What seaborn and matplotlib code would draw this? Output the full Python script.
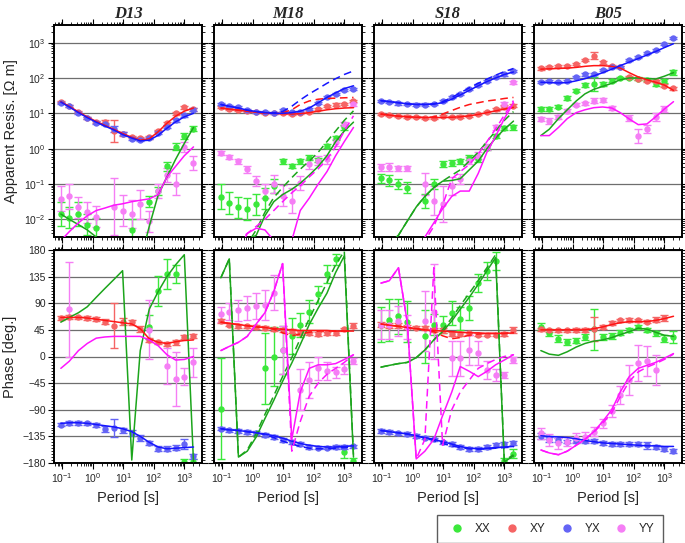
import numpy as np
import matplotlib
matplotlib.use("Agg")
import matplotlib.pyplot as plt
import seaborn as sns
from matplotlib.lines import Line2D
from matplotlib.ticker import LogLocator, MultipleLocator, NullFormatter

nan = np.nan

# periods [s] shared by all stations
periods = [0.09, 0.17, 0.34, 0.66, 1.3, 2.5, 4.9, 9.5, 19, 36, 71, 140, 270, 520, 1000, 2000]

stations = ['D13', 'M18', 'S18', 'B05']
components = ['xx', 'xy', 'yx', 'yy']
labels = ['XX', 'XY', 'YX', 'YY']

# ---- D13 : log10 apparent resistivity, phase [deg] ----
d13_rho_xx = [-1.85, -1.95, -1.85, -2.15, -2.25, nan, nan, nan, -2.3, nan, -1.5, -1.2, -0.5, 0.05, 0.35, 0.57]
d13_rho_xx_err = [0.35, 0.3, 0.35, 0.3, 0.3, 0, 0, 0, 0.3, 0, 0.15, 0.12, 0.12, 0.1, 0.08, 0.06]
d13_rho_xx_fit = [-1.85, -2.0, -2.15, -2.3, -2.5, -2.75, -3.0, -3.3, -3.5, -3.2, -2.2, -1.3, -0.8, -0.3, 0.15, 0.6]
d13_rho_xy = [1.32, 1.2, 1.03, 0.88, 0.76, 0.75, 0.5, 0.42, 0.33, 0.3, 0.32, 0.5, 0.72, 1.0, 1.17, 1.12]
d13_rho_xy_err = [0.03, 0.03, 0.03, 0.03, 0.03, 0.05, 0.3, 0.05, 0.04, 0.04, 0.04, 0.04, 0.04, 0.05, 0.05, 0.04]
d13_rho_xy_fit = [1.33, 1.2, 1.04, 0.9, 0.77, 0.66, 0.55, 0.43, 0.32, 0.24, 0.28, 0.48, 0.72, 0.92, 1.06, 1.15]
d13_rho_yx = [1.3, 1.2, 1.0, 0.87, 0.74, 0.7, 0.56, 0.42, 0.28, 0.25, 0.3, 0.45, 0.62, 0.8, 0.95, 1.1]
d13_rho_yx_err = [0.03, 0.03, 0.03, 0.03, 0.03, 0.04, 0.08, 0.04, 0.04, 0.04, 0.04, 0.04, 0.04, 0.04, 0.04, 0.04]
d13_rho_yx_fit = [1.32, 1.18, 1.02, 0.88, 0.75, 0.64, 0.53, 0.4, 0.3, 0.22, 0.24, 0.38, 0.58, 0.76, 0.9, 1.0]
d13_rho_yy = [-1.42, -1.35, -1.66, -1.8, -1.92, nan, -1.64, -1.75, -1.85, -1.58, -2.06, -1.2, -0.75, -1.0, 0.05, -0.4]
d13_rho_yy_err = [0.35, 0.35, 0.3, 0.3, 0.3, 0, 0.8, 0.45, 0.4, 0.4, 0.3, 0.2, 0.2, 0.3, 0.15, 0.2]
d13_rho_yy_fit = [-2.6, -2.35, -2.1, -1.9, -1.75, -1.68, -1.6, -1.56, -1.5, -1.46, -1.42, -1.3, -0.8, -0.5, -0.2, 0.05]

d13_phs_xx = [nan, nan, nan, nan, nan, nan, nan, nan, nan, nan, 50, 111, 139, 139, -178, -178]
d13_phs_xx_err = [0, 0, 0, 0, 0, 0, 0, 0, 0, 0, 20, 25, 25, 15, 5, 5]
d13_phs_xx_fit = [58, 66, 74, 84, 100, 115, 130, 145, -175, 10, 80, 110, 135, 155, 172, -178]
d13_phs_xy = [65, 67, 66, 65, 63, 59, 52, 59, 58, 46, 28, 24, 21, 24, 33, 35]
d13_phs_xy_err = [3, 3, 3, 3, 3, 4, 38, 6, 4, 5, 4, 3, 3, 4, 4, 3]
d13_phs_xy_fit = [66, 66, 66, 65, 63, 61, 59, 57, 55, 47, 30, 24, 22, 25, 27, 28]
d13_phs_yx = [-115, -112, -112, -113, -116, -122, -121, -125, -129, -137, -146, -156, -156, -154, -148, -169]
d13_phs_yx_err = [3, 3, 3, 3, 3, 5, 15, 5, 5, 5, 4, 4, 4, 4, 8, 4]
d13_phs_yx_fit = [-113, -112, -112, -113, -115, -117, -119, -122, -127, -135, -145, -153, -156, -155, -154, -153]
d13_phs_yy = [nan, 80, nan, nan, nan, nan, nan, nan, nan, nan, 45, nan, -16, -38, -34, -10]
d13_phs_yy_err = [0, 80, 0, 0, 0, 0, 0, 0, 0, 0, 50, 0, 30, 45, 15, 25]
d13_phs_yy_fit = [-20, -8, 10, 22, 31, 33, 34, 34, 34, 34, 28, 18, 3, -6, -5, 0]

# ---- M18 ----
m18_rho_xx = [-1.36, -1.54, -1.66, -1.71, -1.58, -1.4, -1.05, -0.36, -0.48, -0.36, -0.25, -0.32, 0.08, 0.3, 0.6, nan]
m18_rho_xx_err = [0.35, 0.3, 0.3, 0.3, 0.3, 0.3, 0.2, 0.06, 0.06, 0.06, 0.06, 0.06, 0.06, 0.06, 0.06, 0]
m18_rho_xx_fit = [-3.5, -3.2, -2.9, -2.6, -2.45, -1.9, -1.5, -1.3, -1.15, -0.98, -0.75, -0.5, -0.2, 0.2, 0.5, 0.75]
m18_rho_xx_alt = [-3.6, -3.3, -3.0, -2.7, -2.3, -1.8, -1.38, -1.1, -0.82, -0.58, -0.35, -0.1, 0.2, 0.5, 0.8, 1.07]
m18_rho_xy = [1.17, 1.12, 1.1, 1.07, 1.03, 1.0, 1.0, 1.0, 0.98, 1.0, 1.05, 1.13, 1.2, 1.25, 1.26, 1.35]
m18_rho_xy_err = [0.03, 0.03, 0.03, 0.03, 0.03, 0.03, 0.03, 0.03, 0.03, 0.03, 0.03, 0.03, 0.03, 0.03, 0.03, 0.03]
m18_rho_xy_fit = [1.15, 1.12, 1.09, 1.06, 1.03, 1.01, 1.0, 0.99, 0.98, 0.99, 1.02, 1.06, 1.1, 1.13, 1.15, 1.16]
m18_rho_xy_alt = [1.15, 1.12, 1.09, 1.06, 1.03, 1.01, 1.0, 1.02, 1.1, 1.25, 1.35, 1.4, 1.42, 1.43, 1.44, 1.45]
m18_rho_yx = [1.26, 1.22, 1.18, 1.1, 1.05, 1.03, 1.01, 1.1, 1.03, 1.04, 1.12, 1.3, 1.45, 1.55, 1.65, 1.7]
m18_rho_yx_err = [0.03, 0.03, 0.03, 0.03, 0.03, 0.03, 0.03, 0.03, 0.03, 0.03, 0.03, 0.03, 0.03, 0.03, 0.03, 0.03]
m18_rho_yx_fit = [1.25, 1.2, 1.15, 1.09, 1.05, 1.02, 1.0, 1.0, 1.02, 1.06, 1.15, 1.3, 1.45, 1.58, 1.7, 1.78]
m18_rho_yx_alt = [1.25, 1.2, 1.15, 1.09, 1.05, 1.02, 1.01, 1.05, 1.2, 1.38, 1.55, 1.7, 1.85, 1.98, 2.1, 2.2]
m18_rho_yy = [-0.13, -0.23, -0.36, -0.58, -0.91, -1.19, -1.0, -1.33, -1.47, -0.96, -0.43, -0.34, -0.3, 0.18, 0.7, 1.26]
m18_rho_yy_err = [0.06, 0.06, 0.08, 0.1, 0.15, 0.2, 0.25, 0.3, 0.35, 0.2, 0.15, 0.12, 0.12, 0.1, 0.06, 0.04]
m18_rho_yy_fit = [-3.5, -3.2, -2.9, -2.4, -2.25, -2.3, -2.6, -3.0, -2.6, -1.75, -1.4, -1.0, -0.65, -0.2, 0.2, 0.6]
m18_rho_yy_alt = [-3.2, -2.9, -2.6, -2.4, -2.2, -2.0, -1.75, -1.5, -1.25, -1.05, -0.8, -0.57, -0.3, 0.05, 0.5, 0.93]

m18_phs_xx = [-88, nan, nan, nan, nan, -20, 0, 11, 35, 53, 76, 105, 139, 164, -161, -176]
m18_phs_xx_err = [85, 0, 0, 0, 0, 60, 50, 40, 30, 20, 20, 15, 15, 10, 10, 5]
m18_phs_xx_fit = [133, 165, -170, -160, -136, -105, -74, -42, -11, 20, 54, 82, 107, 142, 170, -170]
m18_phs_xx_alt = [133, 165, -170, -158, -130, -98, -66, -34, -2, 30, 64, 95, 125, 155, 178, -168]
m18_phs_xy = [60, 54, 52, 51, 50, 48, 46, 45, 43, 40, 39, 38, 39, 40, 46, 52]
m18_phs_xy_err = [4, 3, 3, 3, 3, 3, 3, 3, 3, 3, 3, 3, 3, 3, 3, 4]
m18_phs_xy_fit = [58, 56, 54, 52, 50, 49, 47, 46, 45, 44, 44, 44, 44, 43, 43, 43]
m18_phs_xy_alt = [58, 56, 54, 52, 50, 49, 46, 40, 35, 38, 41, 43, 43, 43, 43, 43]
m18_phs_yx = [-122, -125, -126, -128, -129, -133, -136, -141, -145, -148, -153, -154, -154, -153, -153, -152]
m18_phs_yx_err = [3, 3, 3, 3, 3, 3, 3, 3, 3, 3, 3, 3, 3, 3, 3, 3]
m18_phs_yx_fit = [-122, -124, -125, -127, -129, -131, -134, -138, -143, -147, -150, -152, -153, -153, -152, -151]
m18_phs_yx_alt = [-122, -124, -125, -127, -129, -132, -137, -143, -148, -152, -155, -156, -156, -155, -154, -153]
m18_phs_yy = [71, 76, 78, 82, 85, 87, 108, 11, nan, -56, -40, -20, -25, -27, -21, -8]
m18_phs_yy_err = [12, 15, 18, 20, 22, 25, 30, 40, 0, 35, 30, 20, 15, 10, 8, 5]
m18_phs_yy_fit = [10, 17, 24, 34, 55, 74, 110, 157, -140, -60, -20, -14, -14, -12, -5, 3]
m18_phs_yy_alt = [10, 17, 24, 34, 55, 74, 110, 157, -160, -110, -67, -45, -30, -20, -10, 3]

# ---- S18 ----
s18_rho_xx = [-0.84, -0.9, -1.0, -1.1, nan, -1.47, -1.0, -0.43, -0.41, -0.36, -0.25, -0.3, 0.03, 0.35, 0.58, 0.6]
s18_rho_xx_err = [0.12, 0.15, 0.15, 0.15, 0, 0.2, 0.15, 0.08, 0.08, 0.08, 0.08, 0.08, 0.06, 0.06, 0.06, 0.06]
s18_rho_xx_fit = [-3.0, -2.7, -2.45, -2.05, -1.65, -1.35, -1.1, -0.92, -0.9, -0.85, -0.6, -0.35, 0.0, 0.3, 0.55, 0.78]
s18_rho_xx_alt = [-3.0, -2.7, -2.45, -2.05, -1.65, -1.35, -1.1, -0.92, -0.75, -0.6, -0.35, -0.1, 0.2, 0.5, 0.8, 1.05]
s18_rho_xy = [0.98, 0.95, 0.92, 0.91, 0.89, 0.88, 0.88, 0.93, 0.89, 0.91, 0.93, 0.98, 1.03, 1.12, 1.19, 1.22]
s18_rho_xy_err = [0.03, 0.03, 0.03, 0.03, 0.03, 0.03, 0.03, 0.03, 0.03, 0.03, 0.03, 0.03, 0.03, 0.04, 0.04, 0.04]
s18_rho_xy_fit = [0.98, 0.95, 0.92, 0.9, 0.89, 0.88, 0.88, 0.88, 0.89, 0.9, 0.93, 0.97, 1.02, 1.07, 1.12, 1.17]
s18_rho_xy_alt = [0.98, 0.95, 0.92, 0.9, 0.89, 0.88, 0.9, 0.98, 1.08, 1.17, 1.25, 1.3, 1.35, 1.38, 1.42, 1.45]
s18_rho_yx = [1.36, 1.33, 1.28, 1.26, 1.25, 1.25, 1.26, 1.36, 1.45, 1.55, 1.69, 1.8, 1.92, 2.02, 2.1, 2.19]
s18_rho_yx_err = [0.03, 0.03, 0.03, 0.03, 0.03, 0.03, 0.03, 0.03, 0.03, 0.03, 0.03, 0.03, 0.03, 0.03, 0.03, 0.03]
s18_rho_yx_fit = [1.36, 1.33, 1.3, 1.27, 1.25, 1.25, 1.26, 1.3, 1.4, 1.52, 1.65, 1.78, 1.9, 2.0, 2.1, 2.17]
s18_rho_yx_alt = [1.36, 1.33, 1.3, 1.27, 1.25, 1.25, 1.27, 1.33, 1.45, 1.58, 1.72, 1.85, 1.97, 2.08, 2.18, 2.27]
s18_rho_yy = [-0.53, -0.52, -0.56, -0.56, nan, -1.0, -1.47, -1.57, -1.05, -0.86, -0.34, -0.2, 0.04, 0.6, 1.26, 1.88]
s18_rho_yy_err = [0.1, 0.12, 0.08, 0.08, 0, 0.3, 0.4, 0.5, 0.25, 0.15, 0.1, 0.1, 0.08, 0.06, 0.05, 0.04]
s18_rho_yy_fit = [-4.0, -3.8, -3.5, -3.2, -2.9, -2.5, -2.1, -1.7, -1.35, -1.2, -1.2, -0.7, -0.1, 0.35, 0.85, 1.3]
s18_rho_yy_alt = [-4.0, -3.8, -3.5, -3.2, -2.9, -2.6, -2.2, -1.6, -0.85, -0.65, -0.45, -0.15, 0.2, 0.56, 0.95, 1.36]

s18_phs_xx = [54, 62, 68, 59, nan, 34, 54, 54, 74, 64, 82, 124, 144, 161, -176, -164]
s18_phs_xx_err = [30, 35, 30, 35, 0, 45, 18, 15, 20, 20, 20, 15, 15, 15, 5, 8]
s18_phs_xx_fit = [-18, -15, -12, -10, -2, 11, 28, 42, 60, 80, 100, 122, 145, 167, -178, -168]
s18_phs_xx_alt = [-18, -15, -12, -10, -2, 11, 28, 45, 65, 86, 107, 128, 150, 172, -176, -166]
s18_phs_xy = [54, 52, 53, 50, 49, 48, 45, 44, 38, 38, 39, 37, 37, 37, 38, 45]
s18_phs_xy_err = [4, 4, 4, 3, 3, 4, 4, 4, 3, 3, 3, 3, 3, 3, 4, 5]
s18_phs_xy_fit = [55, 53, 51, 49, 47, 45, 44, 43, 42, 41, 40, 40, 39, 39, 39, 40]
s18_phs_xy_alt = [55, 53, 51, 49, 47, 45, 42, 35, 30, 32, 36, 38, 39, 39, 39, 40]
s18_phs_yx = [-126, -128, -130, -131, -134, -137, -140, -145, -148, -153, -156, -156, -153, -150, -148, -146]
s18_phs_yx_err = [3, 3, 3, 3, 3, 3, 3, 3, 3, 3, 3, 3, 3, 3, 3, 3]
s18_phs_yx_fit = [-125, -127, -129, -131, -134, -137, -140, -144, -148, -152, -155, -156, -155, -154, -153, -152]
s18_phs_yx_alt = [-125, -127, -129, -131, -134, -138, -142, -147, -151, -154, -156, -157, -156, -155, -154, -153]
s18_phs_yy = [54, 54, 60, 50, nan, 60, 76, nan, -3, -3, 11, 6, -23, -31, -31, -6]
s18_phs_yy_err = [25, 25, 25, 20, 0, 50, 80, 0, 30, 30, 25, 20, 15, 10, 5, 5]
s18_phs_yy_fit = [124, 128, 150, 58, -173, -160, -140, -100, -60, -17, -25, -34, -25, -14, -6, 3]
s18_phs_yy_alt = [124, 128, 150, 58, -173, -140, 150, -150, -90, -60, -40, -20, -12, -5, 0, 3]

# ---- B05 ----
b05_rho_xx = [1.12, 1.12, 1.19, 1.43, 1.64, 1.81, 1.83, 1.83, 1.92, 2.0, 2.0, 1.98, 1.95, 1.83, 1.91, 2.16]
b05_rho_xx_err = [0.05, 0.05, 0.05, 0.05, 0.05, 0.06, 0.2, 0.05, 0.04, 0.04, 0.04, 0.04, 0.04, 0.05, 0.05, 0.08]
b05_rho_xx_fit = [0.37, 0.55, 0.85, 1.1, 1.35, 1.55, 1.68, 1.76, 1.85, 1.95, 2.0, 2.0, 1.98, 1.97, 2.05, 2.15]
b05_rho_xy = [2.27, 2.32, 2.33, 2.35, 2.4, 2.52, 2.63, 2.44, 2.35, 2.3, 2.02, 1.97, 1.92, 1.92, 1.78, 1.71]
b05_rho_xy_err = [0.03, 0.03, 0.03, 0.03, 0.03, 0.03, 0.1, 0.03, 0.03, 0.03, 0.03, 0.03, 0.03, 0.03, 0.04, 0.04]
b05_rho_xy_fit = [2.25, 2.26, 2.27, 2.28, 2.3, 2.33, 2.35, 2.35, 2.33, 2.28, 2.15, 2.03, 1.95, 1.88, 1.8, 1.65]
b05_rho_yx = [1.88, 1.91, 1.88, 1.91, 2.02, 2.1, 2.11, 2.23, 2.32, 2.3, 2.51, 2.6, 2.7, 2.8, 2.96, 3.13]
b05_rho_yx_err = [0.03, 0.03, 0.03, 0.03, 0.03, 0.03, 0.03, 0.03, 0.03, 0.03, 0.03, 0.03, 0.03, 0.03, 0.03, 0.03]
b05_rho_yx_fit = [1.88, 1.87, 1.86, 1.87, 1.92, 1.98, 2.06, 2.15, 2.25, 2.35, 2.45, 2.55, 2.65, 2.75, 2.86, 2.97]
b05_rho_yy = [0.84, 0.79, 0.9, 1.07, 1.25, 1.28, 1.36, 1.38, 1.15, nan, 0.87, 0.37, 0.56, 0.89, 1.12, nan]
b05_rho_yy_err = [0.07, 0.08, 0.06, 0.05, 0.05, 0.05, 0.06, 0.05, 0.05, 0, 0.08, 0.2, 0.12, 0.12, 0.08, 0]
b05_rho_yy_fit = [0.37, 0.37, 0.6, 0.85, 1.02, 1.1, 1.16, 1.18, 1.15, 1.02, 0.84, 0.68, 0.7, 0.9, 1.12, 1.33]

b05_phs_xx = [50, 40, 30, 24, 27, 33, 46, 33, 34, 40, 45, 50, 45, 39, 30, 33]
b05_phs_xx_err = [6, 6, 6, 5, 5, 5, 35, 5, 5, 4, 4, 4, 4, 4, 6, 10]
b05_phs_xx_fit = [10, 4, 2, 8, 16, 22, 26, 28, 32, 37, 42, 48, 46, 41, 36, 34]
b05_phs_xy = [46, 44, 44, 44, 45, 45, 46, 50, 57, 61, 62, 61, 59, 62, 65, nan]
b05_phs_xy_err = [3, 3, 3, 3, 3, 3, 20, 3, 3, 3, 3, 3, 3, 4, 5, 0]
b05_phs_xy_fit = [45, 45, 45, 45, 45, 45, 47, 50, 54, 57, 59, 59, 59, 61, 64, 68]
b05_phs_yx = [-135, -140, -141, -144, -143, -143, -143, -146, -148, -148, -148, -148, -150, -153, -156, -160]
b05_phs_yx_err = [5, 4, 3, 3, 3, 3, 3, 3, 3, 3, 3, 3, 6, 3, 3, 3]
b05_phs_yx_fit = [-134, -135, -136, -137, -139, -142, -144, -146, -147, -148, -149, -150, -151, -151, -152, -152]
b05_phs_yy = [-130, -141, -147, -144, -137, -136, -127, -113, -92, -65, -40, -11, -8, -23, nan, nan]
b05_phs_yy_err = [10, 10, 10, 8, 8, 8, 8, 8, 10, 15, 25, 30, 25, 25, 0, 0]
b05_phs_yy_fit = [-158, -163, -166, -160, -150, -140, -127, -110, -90, -60, -34, -20, -15, -10, -3, 5]
b05_phs_yy_alt = [-158, -163, -166, -160, -150, -140, -128, -113, -95, -68, -42, -26, -18, -12, -5, 4]

point_colors = {'xx': '#3be83b', 'xy': '#f56464', 'yx': '#6464f5', 'yy': '#f57ef5'}
line_colors = {'xx': '#1ca51c', 'xy': '#ff1515', 'yx': '#1515ff', 'yy': '#ff15ff'}

sns.set_theme(style="white")
plt.rcParams['font.family'] = ['Liberation Sans', 'DejaVu Sans']
plt.rcParams['mathtext.fontset'] = 'custom'
plt.rcParams['mathtext.rm'] = 'Liberation Sans'

series = globals()

W, H = 685, 543
fig = plt.figure(figsize=(W / 100, H / 100), dpi=100)
lefts = [54, 214, 374, 534]
pw = 148


def draw(ax, code, kind):
    for c in components:
        vals = np.array(series[f"{code}_{kind}_{c}"], float)
        err = np.array(series[f"{code}_{kind}_{c}_err"], float)
        if kind == 'rho':
            y = 10 ** vals
            lo, hi = y - 10 ** (vals - err), 10 ** (vals + err) - y
        else:
            y, lo, hi = vals, err, err
        ax.errorbar(periods, y, yerr=[lo, hi], fmt='o', ms=3.6, color=point_colors[c],
                    ecolor=point_colors[c], elinewidth=1.0, capsize=2.6, capthick=1.0, zorder=2)
    for c in components:
        for suffix, ls in (('fit', '-'), ('alt', (0, (5, 3)))):
            name = f"{code}_{kind}_{c}_{suffix}"
            if name not in series:
                continue
            v = np.array(series[name], float)
            yv = 10 ** v if kind == 'rho' else v
            sns.lineplot(x=periods, y=yv, ax=ax, color=line_colors[c], lw=1.1,
                         linestyle=ls, estimator=None, sort=False, zorder=3)


for i, st in enumerate(stations):
    code = st.lower()
    ax_r = fig.add_axes([lefts[i] / W, 1 - 237 / H, pw / W, 212 / H])
    ax_p = fig.add_axes([lefts[i] / W, 1 - 463 / H, pw / W, 213 / H])
    for ax, kind in ((ax_r, 'rho'), (ax_p, 'phs')):
        ax.set_xscale('log')
        if kind == 'rho':
            ax.set_yscale('log')
        draw(ax, code, kind)
        ax.set_xlim(10 ** -1.27, 10 ** 3.58)
        ax.xaxis.set_major_locator(LogLocator(base=10, numticks=12))
        ax.xaxis.set_minor_locator(LogLocator(base=10, subs=np.arange(2, 10), numticks=12))
        if kind == 'rho':
            ax.set_ylim(10 ** -2.5, 10 ** 3.5)
            ax.yaxis.set_major_locator(LogLocator(base=10, numticks=12))
            ax.yaxis.set_minor_locator(LogLocator(base=10, subs=np.arange(2, 10), numticks=12))
            ax.yaxis.set_minor_formatter(NullFormatter())
            ax.tick_params(axis='x', which='both', labelbottom=False)
        else:
            ax.set_ylim(-180, 180)
            ax.yaxis.set_major_locator(MultipleLocator(45))
            ax.yaxis.set_minor_locator(MultipleLocator(5))
            ax.set_xlabel('Period [s]', fontsize=10.5, labelpad=4)
        ax.set_ylabel('')
        if i > 0:
            ax.tick_params(axis='y', which='both', labelleft=False)
        ax.grid(axis='y', color='#6e6e6e', lw=0.9)
        ax.grid(axis='x', visible=False)
        ax.set_axisbelow(True)
        for sp in ax.spines.values():
            sp.set_color('black')
            sp.set_linewidth(1.4)
        ax.tick_params(which='both', direction='out', top=True, right=True, bottom=True, left=True,
                       labelsize=7.5, color='black', pad=2)
        ax.tick_params(which='major', length=4, width=0.8)
        ax.tick_params(which='minor', length=2, width=0.6)
    ax_r.set_title(st, fontsize=12, fontweight='bold', fontstyle='italic',
                   family='Liberation Serif', pad=5)
    if i == 0:
        ax_r.set_ylabel('Apparent Resis. [\u03a9 m]', fontsize=10.5, labelpad=4)
        ax_p.set_ylabel('Phase [deg.]', fontsize=10.5, labelpad=4)

handles = [Line2D([], [], marker='o', ls='none', ms=5, color=point_colors[c]) for c in components]
leg = fig.legend(handles, labels, ncol=4, loc='center', bbox_to_anchor=(550 / W, 1 - 529 / H),
                 fontsize=8.5, frameon=True, fancybox=False, edgecolor='#333333',
                 handletextpad=0.5, columnspacing=0.8, borderpad=0.7, handlelength=2.0)
leg.get_frame().set_linewidth(1.0)

fig.savefig('out.png', dpi=100)
